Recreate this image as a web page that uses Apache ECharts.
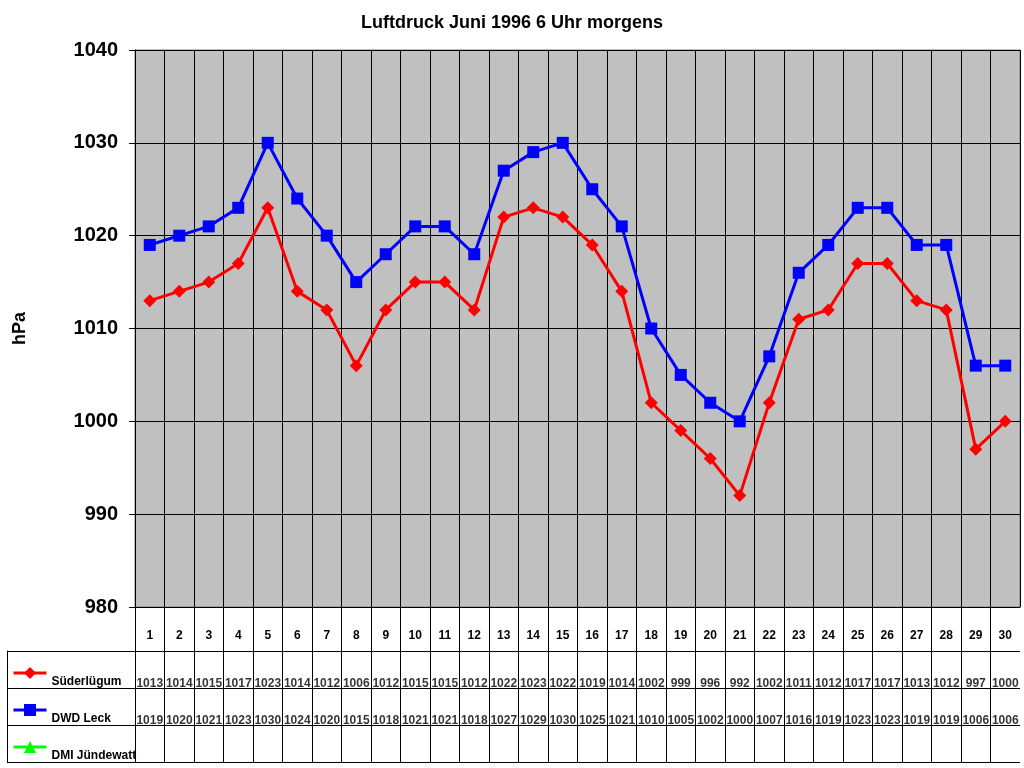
<!DOCTYPE html>
<html>
<head>
<meta charset="utf-8">
<script src="https://cdn.jsdelivr.net/npm/echarts@6/dist/echarts.min.js"></script>
<style>
  html, body { margin: 0; padding: 0; background: #fff; }
  #chart { width: 1024px; height: 768px; }
</style>
</head>
<body>
<div id="chart"></div>
<script>
var days = [];
for (var d = 1; d <= 30; d++) days.push(String(d));

var rowNames = ['Süderlügum', 'DWD Leck', 'DMI Jündewatt'];

var suederluegum = [1013, 1014, 1015, 1017, 1023, 1014, 1012, 1006, 1012, 1015,
                    1015, 1012, 1022, 1023, 1022, 1019, 1014, 1002, 999, 996,
                    992, 1002, 1011, 1012, 1017, 1017, 1013, 1012, 997, 1000];
var dwdLeck = [1019, 1020, 1021, 1023, 1030, 1024, 1020, 1015, 1018, 1021,
               1021, 1018, 1027, 1029, 1030, 1025, 1021, 1010, 1005, 1002,
               1000, 1007, 1016, 1019, 1023, 1023, 1019, 1019, 1006, 1006];
var dmiJuendewatt = [];

var FONT = 'Arial, "Liberation Sans", sans-serif';

// data table cells: [day, row, value]
var cells = [];
days.forEach(function (day, i) {
    cells.push([day, rowNames[0], suederluegum[i]]);
    cells.push([day, rowNames[1], dwdLeck[i]]);
});

var chart = echarts.init(document.getElementById('chart'));

function rowLegend(name, top) {
    return {
        data: [name],
        left: 7,
        top: top,
        orient: 'vertical',
        itemWidth: 33,
        itemHeight: 15,
        itemGap: 0,
        selectedMode: false,
        lineStyle: { width: 3 },
        formatter: function (n) { return '{n|' + n + '}'; },
        textStyle: {
            fontFamily: FONT, fontWeight: 'bold', fontSize: 12, color: '#000',
            rich: {
                n: { fontFamily: FONT, fontWeight: 'bold', fontSize: 12, color: '#000', padding: [18, 0, 0, 0] }
            }
        }
    };
}

var option = {
    backgroundColor: '#fff',
    animation: false,
    title: {
        text: 'Luftdruck Juni 1996 6 Uhr morgens',
        left: 'center',
        top: 9,
        textStyle: { fontFamily: FONT, fontWeight: 'bold', fontSize: 18, color: '#000' }
    },
    legend: [
        rowLegend(rowNames[0], 662),
        rowLegend(rowNames[1], 699),
        rowLegend(rowNames[2], 736)
    ],
    grid: [
        { left: 135, top: 50, width: 885, height: 557, show: true,
          backgroundColor: '#c0c0c0', borderColor: '#808080', borderWidth: 1 },
        { left: 135, top: 607, width: 885, height: 44 },
        { left: 135, top: 651, width: 885, height: 111 }
    ],
    xAxis: [
        {
            gridIndex: 0, type: 'category', data: days, boundaryGap: true,
            axisLine: { show: true, lineStyle: { color: '#000', width: 1 } },
            axisTick: { show: false },
            axisLabel: { margin: 23, interval: 0, fontFamily: FONT, fontWeight: 'bold', fontSize: 12, color: '#000' },
            splitLine: { show: true, interval: 0, lineStyle: { color: '#000', width: 1 } }
        },
        {
            gridIndex: 1, type: 'category', data: days, boundaryGap: true,
            axisLine: { show: false }, axisTick: { show: false }, axisLabel: { show: false },
            splitLine: { show: true, interval: 0, showMaxLine: false, lineStyle: { color: '#000', width: 1 } }
        },
        {
            gridIndex: 2, type: 'category', data: days, boundaryGap: true,
            axisLine: { show: false }, axisTick: { show: false }, axisLabel: { show: false },
            splitLine: { show: true, interval: 0, showMaxLine: false, lineStyle: { color: '#000', width: 1 } }
        }
    ],
    yAxis: [
        {
            gridIndex: 0, type: 'value', min: 980, max: 1040, interval: 10,
            name: 'hPa', nameLocation: 'middle', nameGap: 106, nameRotate: 90,
            nameTextStyle: { fontFamily: FONT, fontWeight: 'bold', fontSize: 18, color: '#000' },
            axisLine: { show: true, lineStyle: { color: '#000', width: 1 } },
            axisTick: { show: true, length: 6, lineStyle: { color: '#000' } },
            axisLabel: {
                margin: 17, fontFamily: FONT, fontWeight: 'bold', fontSize: 20, color: '#000',
                formatter: function (v) { return String(v); }
            },
            splitLine: { show: true, lineStyle: { color: '#000', width: 1 } }
        },
        {
            gridIndex: 1, type: 'value', show: false
        },
        {
            gridIndex: 2, type: 'category', data: rowNames, inverse: true, boundaryGap: true,
            axisLine: { show: true, lineStyle: { color: '#000', width: 1 } },
            axisTick: { show: true, length: 128, interval: 0, lineStyle: { color: '#000', width: 1 } },
            axisLabel: { show: false },
            splitLine: { show: true, interval: 0, lineStyle: { color: '#000', width: 1 } }
        },
        {
            gridIndex: 2, type: 'category', data: rowNames, inverse: true, position: 'left', offset: 128,
            axisLine: { show: true, lineStyle: { color: '#000', width: 1 } },
            axisTick: { show: false }, axisLabel: { show: false }, splitLine: { show: false }
        }
    ],
    series: [
        {
            name: rowNames[0], type: 'line', xAxisIndex: 0, yAxisIndex: 0,
            data: suederluegum,
            symbol: 'diamond', symbolSize: 13,
            lineStyle: { color: '#ff0000', width: 3 },
            itemStyle: { color: '#ff0000' }
        },
        {
            name: rowNames[1], type: 'line', xAxisIndex: 0, yAxisIndex: 0,
            data: dwdLeck,
            symbol: 'rect', symbolSize: 12,
            lineStyle: { color: '#0000ff', width: 3 },
            itemStyle: { color: '#0000ff' }
        },
        {
            name: rowNames[2], type: 'line', xAxisIndex: 0, yAxisIndex: 0,
            data: dmiJuendewatt,
            symbol: 'triangle', symbolSize: 13,
            lineStyle: { color: '#00ff00', width: 3 },
            itemStyle: { color: '#00ff00' }
        },
        {
            name: 'table', type: 'scatter', xAxisIndex: 2, yAxisIndex: 2,
            data: cells,
            symbol: 'circle', symbolSize: 0,
            itemStyle: { color: '#000' },
            silent: true,
            label: {
                show: true, position: 'bottom', distance: 8,
                formatter: function (p) { return p.value[2]; },
                fontFamily: FONT, fontWeight: 'bold', fontSize: 12, color: '#000',
                textBorderWidth: 0
            }
        }
    ]
};

chart.setOption(option);
</script>
</body>
</html>
